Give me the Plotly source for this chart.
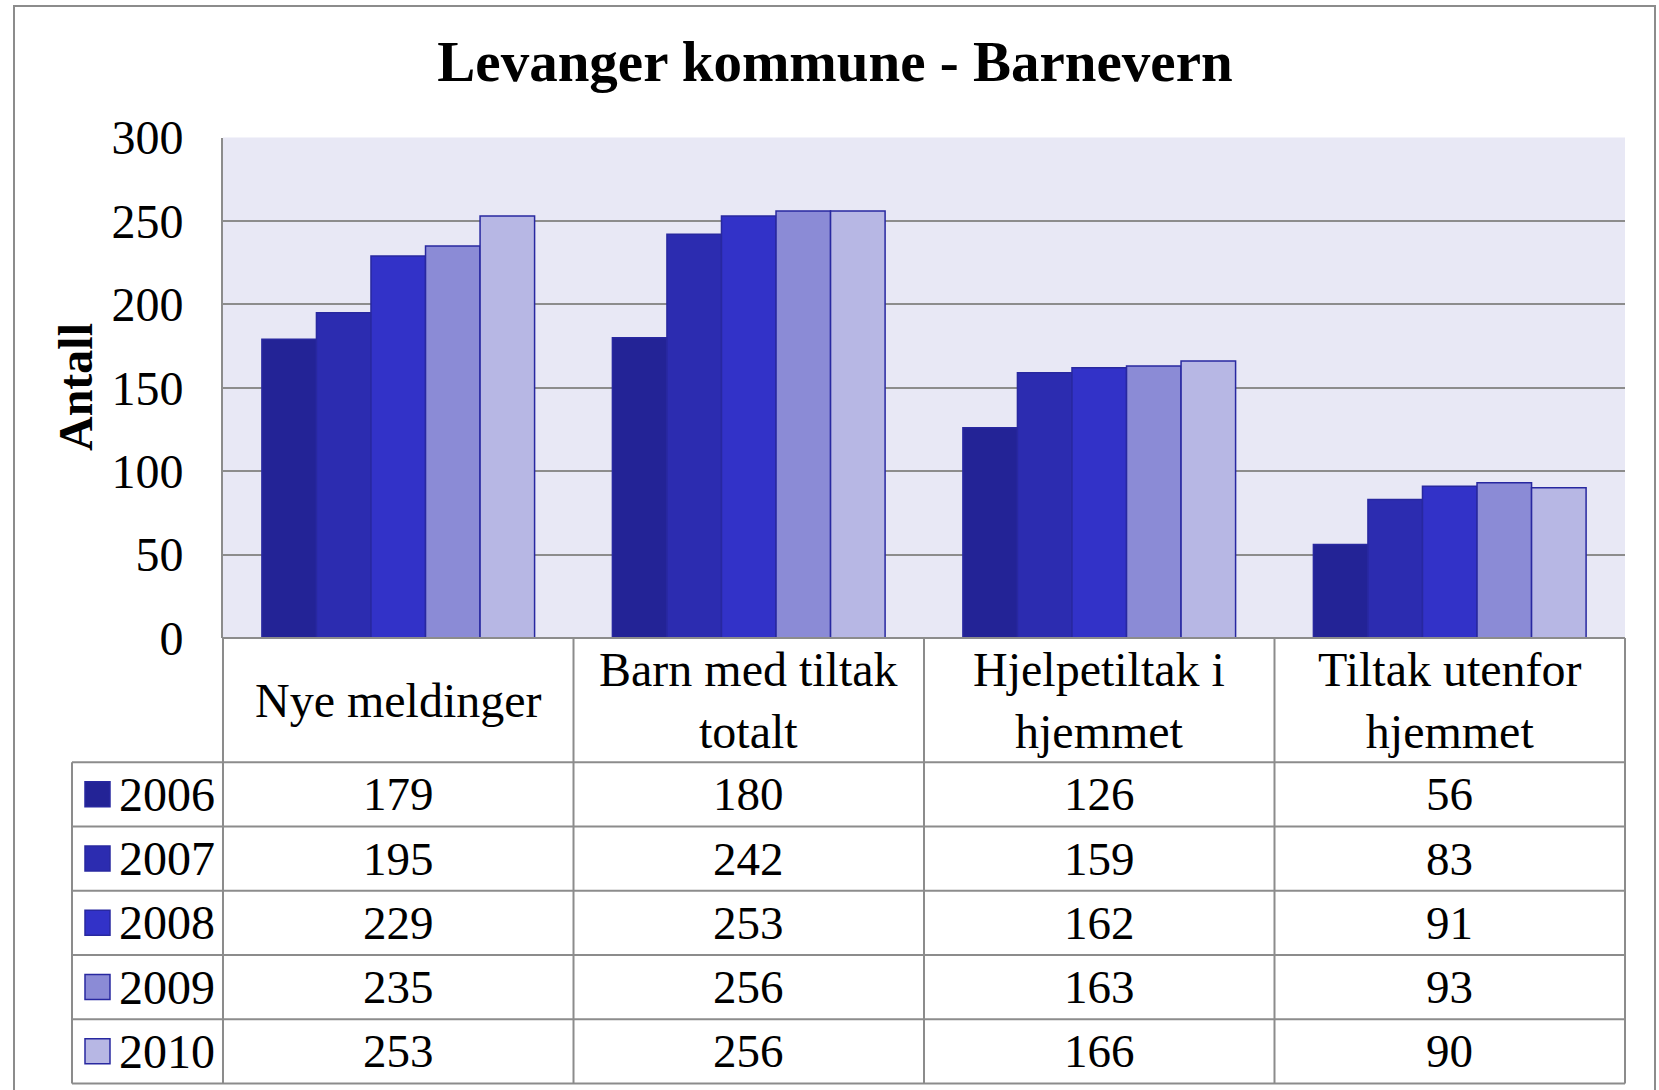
import plotly.graph_objects as go

categories = ["Nye meldinger", "Barn med tiltak totalt", "Hjelpetiltak i hjemmet", "Tiltak utenfor hjemmet"]
category_labels = ["Nye meldinger", "Barn med tiltak<br>totalt", "Hjelpetiltak i<br>hjemmet", "Tiltak utenfor<br>hjemmet"]
years = ["2006", "2007", "2008", "2009", "2010"]
v2006 = [179, 180, 126, 56]
v2007 = [195, 242, 159, 83]
v2008 = [229, 253, 162, 91]
v2009 = [235, 256, 163, 93]
v2010 = [253, 256, 166, 90]
series = [v2006, v2007, v2008, v2009, v2010]
y_ticks = [0, 50, 100, 150, 200, 250, 300]

colors = ["#232396", "#2C2CB0", "#3232C8", "#8B8BD6", "#B7B7E4"]
outline = "#2828A0"
grid = "#8C8C8C"
FONT = "Liberation Serif"
W, H = 1659, 1090

# pixel layout helpers
PL, PR, PT, PB = 223, 1625, 137.5, 638      # bar plot area
TL, TB = 72, 1083.5                         # table left/bottom
unit = (PR - PL) / 4.0                      # px per category
left_w = (PL - TL) / unit                   # left column width in category units
hdr_h = 124 / 64.2                          # header height in row units
row_px = (TB - PB) / (5 + hdr_h)
pad = 0.03

def px_x(p):
    return p / W

def px_y(p):
    return 1 - p / H

fig = go.Figure()
for yr, vals, c in zip(years, series, colors):
    fig.add_trace(go.Bar(x=categories, y=vals, name=yr, marker=dict(color=c, line=dict(color=outline, width=1.5)),
                         showlegend=False, xaxis="x", yaxis="y"))

x2_lo, x2_hi = -0.5 - left_w - pad, len(categories) - 0.5 + pad
y2_lo, y2_hi = -hdr_h - pad, len(years) + pad

shapes = []
# plot area background
shapes.append(dict(type="rect", xref="x domain", yref="y domain", x0=0, x1=1, y0=0, y1=1,
                   fillcolor="#E8E8F5", line=dict(width=0), layer="below"))
line = dict(color=grid, width=2)
for i in range(len(categories) + 1):
    shapes.append(dict(type="line", xref="x2", yref="y2", x0=i - 0.5, x1=i - 0.5, y0=-hdr_h, y1=len(years), line=line))
shapes.append(dict(type="line", xref="x2", yref="y2", x0=-0.5 - left_w, x1=-0.5 - left_w, y0=0, y1=len(years), line=line))
for r in range(len(years) + 1):
    shapes.append(dict(type="line", xref="x2", yref="y2", x0=-0.5 - left_w, x1=len(categories) - 0.5, y0=r, y1=r, line=line))
shapes.append(dict(type="line", xref="x2", yref="y2", x0=-0.5, x1=len(categories) - 0.5, y0=-hdr_h, y1=-hdr_h, line=line))
# legend keys
key_w = 25 / unit
key_h = 25 / row_px
kx0 = -0.5 - left_w + 13 / unit
for r, c in enumerate(colors):
    shapes.append(dict(type="rect", xref="x2", yref="y2", x0=kx0, x1=kx0 + key_w, y0=r + 0.5 - key_h / 2, y1=r + 0.5 + key_h / 2,
                       fillcolor=c, line=dict(color=outline, width=1.5)))
# outer chart border (bottom edge falls outside the picture)
shapes.append(dict(type="rect", xref="paper", yref="paper", x0=px_x(14), x1=px_x(1655), y0=px_y(1100), y1=px_y(6),
                   line=dict(color=grid, width=2), fillcolor="rgba(0,0,0,0)"))

annotations = []
for i, lab in enumerate(category_labels):
    annotations.append(dict(xref="x2", yref="y2", x=i, y=-hdr_h / 2, text=lab, showarrow=False,
                            font=dict(family=FONT, size=48, color="black"), xanchor="center", yanchor="middle"))
for r, (yr, vals) in enumerate(zip(years, series)):
    annotations.append(dict(xref="x2", yref="y2", x=kx0 + key_w + 7 / unit, y=r + 0.5, text=yr, showarrow=False,
                            font=dict(family=FONT, size=48, color="black"), xanchor="left", yanchor="middle"))
    for i, v in enumerate(vals):
        annotations.append(dict(xref="x2", yref="y2", x=i, y=r + 0.5, text=str(v), showarrow=False,
                                font=dict(family=FONT, size=47, color="black"), xanchor="center", yanchor="middle"))
annotations.append(dict(xref="paper", yref="paper", x=px_x(76), y=px_y(387), text="<b>Antall</b>", textangle=-90,
                        showarrow=False, font=dict(family=FONT, size=48, color="black"), xanchor="center", yanchor="middle"))

top_px = PB - pad * row_px
bot_px = TB + pad * row_px

fig.update_layout(
    width=W, height=H,
    margin=dict(l=0, r=0, t=0, b=0, autoexpand=False),
    paper_bgcolor="white",
    plot_bgcolor="rgba(0,0,0,0)",
    bargap=0.222, bargroupgap=0,
    title=dict(text="<b>Levanger kommune - Barnevern</b>", x=px_x(835), y=px_y(61), xanchor="center", yanchor="middle",
               font=dict(family=FONT, size=57, color="black")),
    xaxis=dict(domain=[px_x(PL), px_x(PR)], range=[-0.5, len(categories) - 0.5], showticklabels=False, showgrid=False,
               zeroline=False, anchor="y", automargin=False),
    yaxis=dict(domain=[px_y(PB), px_y(PT)], range=[0, 300], tickvals=y_ticks, showgrid=True, gridcolor=grid, gridwidth=2,
               zeroline=False, showline=True, linecolor=grid, linewidth=2, ticks="", ticklabelstandoff=28,
               tickfont=dict(family=FONT, size=48, color="black"), anchor="x", automargin=False),
    xaxis2=dict(domain=[px_x(TL - pad * unit), px_x(PR + pad * unit)], range=[x2_lo, x2_hi], visible=False,
                anchor="y2", automargin=False),
    yaxis2=dict(domain=[px_y(bot_px), px_y(top_px)], range=[y2_hi, y2_lo], visible=False, anchor="x2", automargin=False),
    shapes=shapes,
    annotations=annotations,
)

fig.write_html("out.html", config={"displayModeBar": False},
               post_script="document.body.style.margin='0px';document.body.style.overflow='hidden';")
